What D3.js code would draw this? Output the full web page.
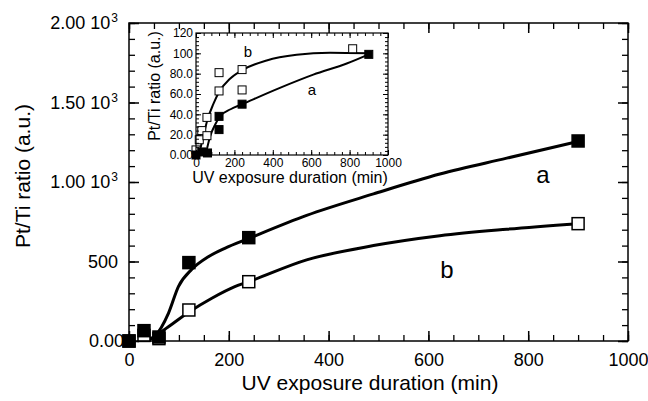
<!DOCTYPE html>
<html>
<head>
<meta charset="utf-8">
<script src="https://cdn.jsdelivr.net/npm/d3@7"></script>
<style>
  body { margin: 0; background: #fff; }
  svg { display: block; }
</style>
</head>
<body>
<svg id="chart" width="648" height="401" font-family="Liberation Sans, Arial, sans-serif"></svg>
<script>
// measured samples (time in min, Pt/Ti ratio in a.u.)
var timesA   = [0, 30, 60, 120, 240, 900];
var ratioA   = [0, 65, 25, 493, 650, 1258];
var timesB   = [0, 30, 60, 120, 240, 900];
var ratioB   = [0, 35, 15, 195, 373, 738];

// fitted curves drawn through the samples
var fitTimeA  = [38, 52, 79, 99, 126, 159, 192, 240, 356, 490, 623, 757, 900];
var fitRatioA = [5, 31, 174, 342, 451, 530, 583, 645, 790, 925, 1050, 1150, 1255];
var fitTimeB  = [35, 42, 79, 121, 166, 212, 240, 356, 490, 623, 757, 900];
var fitRatioB = [5, 13, 90, 184, 269, 342, 373, 510, 600, 662, 703, 738];

// normalised samples for the small plot
var insetTimesA = [0, 30, 60, 120, 120, 240, 900];
var insetRatioA = [0, 3, 2, 25, 38, 50, 99];
var insetTimesB = [0, 17, 30, 57, 57, 120, 120, 240, 240, 816];
var insetRatioB = [5, 15, 24, 19, 37, 63, 81, 64, 84, 104.5];
var insetFitTimeA  = [50, 73, 100, 125, 180, 241, 437, 611, 785, 900];
var insetFitRatioA = [0, 18, 30, 38, 45, 50, 66, 79, 90, 99];
var insetFitTimeB  = [15, 30, 60, 90, 120, 177, 246, 368, 524, 698, 900];
var insetFitRatioB = [0, 12, 35, 50, 62, 75, 84, 93, 98.5, 100.5, 100];

// tick labels
var xTicks = [0, 200, 400, 600, 800, 1000];
var yTicks = [0, 500, 1000, 1500, 2000];
var yTickBase = ["0.00", "500", "1.00 10", "1.50 10", "2.00 10"];
var yTickExp  = ["", "", "3", "3", "3"];
var insetYTicks = [0, 20, 40, 60, 80, 100, 120];
var insetYLabels = ["0.00", "20.0", "40.0", "60.0", "80.0", "100", "120"];

function zip(xs, ys) { return xs.map(function(x, i) { return [x, ys[i]]; }); }

var svg = d3.select("#chart");

// inward tick marks on all four sides of a frame, made with d3 axes
function frameTicks(sx, sy, xs, ys, len, sw) {
  var x0 = sx.range()[0], x1 = sx.range()[1];
  var y0 = sy.range()[0], y1 = sy.range()[1];
  var sides = [
    [d3.axisBottom(sx).tickValues(xs), "translate(0," + y0 + ")"],
    [d3.axisTop(sx).tickValues(xs),    "translate(0," + y1 + ")"],
    [d3.axisLeft(sy).tickValues(ys),   "translate(" + x0 + ",0)"],
    [d3.axisRight(sy).tickValues(ys),  "translate(" + x1 + ",0)"]
  ];
  sides.forEach(function(s) {
    var g = svg.append("g").attr("transform", s[1])
      .call(s[0].tickSize(-len).tickFormat(""));
    g.select(".domain").remove();
    g.selectAll(".tick text").remove();
    g.selectAll(".tick line").attr("stroke", "#000").attr("stroke-width", sw);
  });
}

function labelAxis(axis, transform, size) {
  var g = svg.append("g").attr("transform", transform).call(axis.tickSize(0));
  g.select(".domain").remove();
  g.selectAll(".tick line").remove();
  g.selectAll(".tick text").attr("font-size", size).attr("fill", "#000")
    .attr("font-family", "Liberation Sans, Arial, sans-serif");
  return g;
}

function squares(data, sx, sy, size, fill, sw) {
  svg.append("g").selectAll("rect").data(data).enter().append("rect")
    .attr("x", function(d) { return sx(d[0]) - size / 2; })
    .attr("y", function(d) { return sy(d[1]) - size / 2; })
    .attr("width", size).attr("height", size)
    .attr("fill", fill).attr("stroke", "#000").attr("stroke-width", sw);
}

// ---------- main plot ----------
var x = d3.scaleLinear().domain([0, 1000]).range([129, 628]);
var y = d3.scaleLinear().domain([0, 2000]).range([341, 23]);

labelAxis(d3.axisBottom(x).tickValues(xTicks).tickPadding(12).tickFormat(d3.format("d")), "translate(0,341)", 18);
var gy = labelAxis(d3.axisLeft(y).tickValues(yTicks).tickPadding(11), "translate(129,0)", 18);
gy.selectAll(".tick text")
  .each(function(d, i) {
    var t = d3.select(this).text(null);
    t.append("tspan").text(yTickBase[i]);
    if (yTickExp[i]) {
      t.append("tspan").attr("dx", 1).attr("dy", -7).attr("font-size", 12).text(yTickExp[i]);
    }
    if (d === 0) t.attr("x", -5);
  });

var line = d3.line()
  .x(function(d) { return x(d[0]); })
  .y(function(d) { return y(d[1]); })
  .curve(d3.curveMonotoneX);

svg.append("path").datum(zip(fitTimeB, fitRatioB))
  .attr("d", line).attr("fill", "none").attr("stroke", "#000").attr("stroke-width", 3);
svg.append("path").datum(zip(fitTimeA, fitRatioA))
  .attr("d", line).attr("fill", "none").attr("stroke", "#000").attr("stroke-width", 3);

squares(zip(timesB, ratioB), x, y, 12, "#fff", 1.5);
squares(zip(timesA, ratioA), x, y, 12, "#000", 1.5);

svg.append("text").attr("x", 543).attr("y", 183).attr("text-anchor", "middle")
  .attr("font-size", 24).text("a");
svg.append("text").attr("x", 447).attr("y", 278).attr("text-anchor", "middle")
  .attr("font-size", 24).text("b");

svg.append("text").attr("x", 370).attr("y", 390).attr("text-anchor", "middle")
  .attr("font-size", 21).text("UV exposure duration (min)");
svg.append("text").attr("transform", "translate(30,176) rotate(-90)")
  .attr("text-anchor", "middle").attr("font-size", 21).text("Pt/Ti ratio (a.u.)");

svg.append("rect")
  .attr("x", 129).attr("y", 23).attr("width", 499).attr("height", 318)
  .attr("fill", "none").attr("stroke", "#000").attr("stroke-width", 1.5);
frameTicks(x, y, d3.range(0, 1001, 50), d3.range(0, 2001, 100), 6, 1.3);
frameTicks(x, y, xTicks, yTicks, 10, 1.5);

// ---------- inset ----------
var ix = d3.scaleLinear().domain([0, 1000]).range([196, 388]);
var iy = d3.scaleLinear().domain([0, 120]).range([155, 33]);

labelAxis(d3.axisBottom(ix).tickValues(xTicks).tickPadding(3).tickFormat(d3.format("d")), "translate(0,155)", 12);
labelAxis(d3.axisLeft(iy).tickValues(insetYTicks).tickPadding(3)
  .tickFormat(function(d, i) { return insetYLabels[i]; }), "translate(196,0)", 12);

var iline = d3.line()
  .x(function(d) { return ix(d[0]); })
  .y(function(d) { return iy(d[1]); })
  .curve(d3.curveMonotoneX);

svg.append("path").datum(zip(insetFitTimeB, insetFitRatioB))
  .attr("d", iline).attr("fill", "none").attr("stroke", "#000").attr("stroke-width", 2);
svg.append("path").datum(zip(insetFitTimeA, insetFitRatioA))
  .attr("d", iline).attr("fill", "none").attr("stroke", "#000").attr("stroke-width", 2);

squares(zip(insetTimesB, insetRatioB), ix, iy, 8, "#fff", 1);
squares(zip(insetTimesA, insetRatioA), ix, iy, 8, "#000", 1);

svg.append("text").attr("x", 248).attr("y", 57).attr("text-anchor", "middle")
  .attr("font-size", 15).text("b");
svg.append("text").attr("x", 312).attr("y", 95).attr("text-anchor", "middle")
  .attr("font-size", 15).text("a");

svg.append("text").attr("x", 290).attr("y", 183).attr("text-anchor", "middle")
  .attr("font-size", 16).text("UV exposure duration (min)");
svg.append("text").attr("transform", "translate(160,86) rotate(-90)")
  .attr("text-anchor", "middle").attr("font-size", 16).text("Pt/Ti ratio (a.u.)");

svg.append("rect")
  .attr("x", 196).attr("y", 33).attr("width", 192).attr("height", 122)
  .attr("fill", "none").attr("stroke", "#000").attr("stroke-width", 1.2);
frameTicks(ix, iy, d3.range(0, 1001, 40), d3.range(0, 121, 4), 3, 1);
frameTicks(ix, iy, xTicks, insetYTicks, 5, 1);
</script>
</body>
</html>
